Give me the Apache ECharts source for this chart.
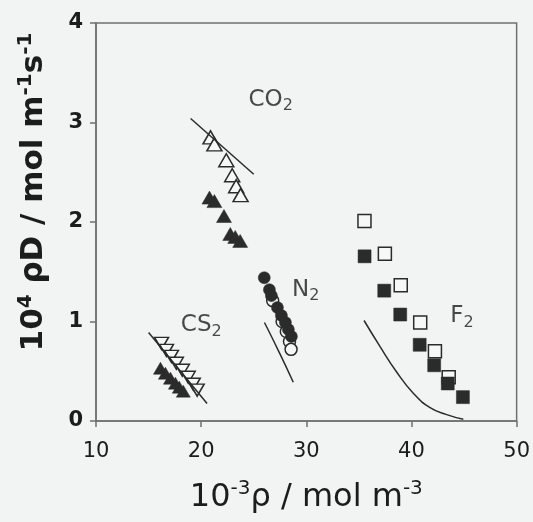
<!DOCTYPE html>
<html>
<head>
<meta charset="utf-8">
<script src="https://cdn.jsdelivr.net/npm/echarts@6/dist/echarts.min.js"></script>
<style>
  html, body { margin: 0; padding: 0; background: #f2f3f3; }
  #chart { width: 533px; height: 522px; }
</style>
</head>
<body>
<div id="chart"></div>
<script>
// Molar density (10^-3 rho) vs. rho*D for four fluids: measured points and model curves
var xTicks = [10, 20, 30, 40, 50];
var yTicks = [0, 1, 2, 3, 4];

var co2Open = [[20.89, 2.85], [21.26, 2.78], [22.39, 2.62], [22.95, 2.47], [23.33, 2.36], [23.75, 2.27]];
var co2Filled = [[20.79, 2.245], [21.26, 2.21], [22.17, 2.06], [22.77, 1.88], [23.24, 1.85], [23.71, 1.81]];
var co2Curve = [[19.0, 3.04], [25.0, 2.48]];

var n2Open = [[26.8, 1.21], [27.7, 1.0], [28.1, 0.9], [28.4, 0.8], [28.55, 0.72]];
var n2Filled = [[26.0, 1.44], [26.49, 1.32], [26.68, 1.26], [27.25, 1.14], [27.63, 1.06], [28.01, 0.99], [28.29, 0.92], [28.58, 0.85]];
var n2Curve = [[26.02, 0.99], [27.47, 0.68], [28.76, 0.39]];

var cs2Open = [[16.23, 0.78], [16.70, 0.71], [17.17, 0.65], [17.64, 0.58], [18.21, 0.51], [18.77, 0.44], [19.25, 0.37], [19.62, 0.31]];
var cs2Filled = [[16.13, 0.53], [16.60, 0.48], [17.08, 0.43], [17.55, 0.38], [17.92, 0.34], [18.30, 0.30]];
var cs2Curve = [[15.0, 0.89], [20.56, 0.175]];

var f2Open = [[35.53, 2.01], [37.47, 1.68], [38.98, 1.364], [40.83, 0.99], [42.23, 0.70], [43.54, 0.44]];
var f2Filled = [[35.54, 1.655], [37.41, 1.31], [38.93, 1.07], [40.78, 0.766], [42.16, 0.56], [43.45, 0.377], [44.89, 0.24]];
var f2Curve = [[35.49, 1.01], [36.94, 0.76], [38.57, 0.495], [40.17, 0.28], [41.77, 0.134], [43.35, 0.064], [44.93, 0.017]];

var speciesLabels = [
  { name: 'CO2', value: [24.5, 3.23], text: '{m|CO}{b|2}' },
  { name: 'N2', value: [28.65, 1.32], text: '{m|N}{b|2}' },
  { name: 'CS2', value: [18.07, 0.96], text: '{m|CS}{b|2}' },
  { name: 'F2', value: [43.69, 1.05], text: '{m|F}{b|2}' }
];

var FONT = '"DejaVu Sans", Arial, sans-serif';
var INK = '#2b2b2b';
var TEXT = '#1c1c1c';
var AXIS = '#707070';
var PAPER = '#f6f7f7';

function openSeries(data, symbol, size, rotate) {
  return {
    type: 'scatter', data: data, symbol: symbol, symbolSize: size, symbolRotate: rotate || 0,
    itemStyle: { color: PAPER, borderColor: INK, borderWidth: 1.5, opacity: 1 },
    z: 3, silent: true
  };
}
function filledSeries(data, symbol, size) {
  return {
    type: 'scatter', data: data, symbol: symbol, symbolSize: size,
    itemStyle: { color: INK, borderColor: INK, borderWidth: 0.5, opacity: 1 },
    z: 4, silent: true
  };
}
function curveSeries(data) {
  return {
    type: 'line', data: data, showSymbol: false, symbol: 'none', smooth: true,
    lineStyle: { color: INK, width: 1.5 }, z: 5, silent: true
  };
}

var chart = echarts.init(document.getElementById('chart'), null, { renderer: 'canvas' });
chart.setOption({
  backgroundColor: '#f2f3f3',
  animation: false,
  grid: {
    left: 96, right: 12, top: 23, bottom: 101,
    show: true, borderColor: AXIS, borderWidth: 1.5, backgroundColor: 'transparent'
  },
  xAxis: {
    type: 'value', min: xTicks[0], max: xTicks[xTicks.length - 1], interval: 10,
    axisLine: { show: true, lineStyle: { color: AXIS, width: 1.5 } },
    axisTick: { show: true, inside: false, length: 6, lineStyle: { color: AXIS, width: 1.5 } },
    splitLine: { show: false },
    axisLabel: { color: TEXT, fontSize: 21, fontFamily: FONT, margin: 20 },
    name: '{n|10}{s|-3}{n|ρ / mol m}{s|-3}',
    nameLocation: 'middle', nameGap: 58,
    nameTextStyle: {
      color: TEXT, fontFamily: FONT,
      rich: {
        n: { fontSize: 32, lineHeight: 38, fontFamily: FONT, color: TEXT, verticalAlign: 'middle' },
        s: { fontSize: 20, lineHeight: 20, fontFamily: FONT, color: TEXT, verticalAlign: 'top' }
      }
    }
  },
  yAxis: {
    type: 'value', min: yTicks[0], max: yTicks[yTicks.length - 1], interval: 1,
    axisLine: { show: true, lineStyle: { color: AXIS, width: 1.5 } },
    axisTick: { show: true, inside: false, length: 6, lineStyle: { color: AXIS, width: 1.5 } },
    splitLine: { show: false },
    axisLabel: { color: TEXT, fontSize: 21, fontFamily: FONT, fontWeight: 'bold', margin: 13 },
    name: '{n|10}{s|4}{n| ρD / mol m}{s|-1}{n|s}{s|-1}',
    nameLocation: 'middle', nameGap: 44, nameRotate: 90,
    nameTextStyle: {
      color: TEXT, fontFamily: FONT, padding: [0, 0, 0, 60],
      rich: {
        n: { fontSize: 31, lineHeight: 36, fontFamily: FONT, fontWeight: 'bold', color: TEXT, verticalAlign: 'middle' },
        s: { fontSize: 20, lineHeight: 20, fontFamily: FONT, fontWeight: 'bold', color: TEXT, verticalAlign: 'top' }
      }
    }
  },
  series: [
    curveSeries(co2Curve),
    openSeries(co2Open, 'triangle', [15, 13]),
    filledSeries(co2Filled, 'triangle', [15, 13]),

    curveSeries(n2Curve),
    openSeries(n2Open, 'circle', 12),
    filledSeries(n2Filled, 'circle', 12),

    curveSeries(cs2Curve),
    openSeries(cs2Open, 'triangle', [14, 12], 180),
    filledSeries(cs2Filled, 'triangle', [14, 12]),

    curveSeries(f2Curve),
    openSeries(f2Open, 'rect', 13),
    filledSeries(f2Filled, 'rect', 13),

    {
      type: 'scatter', symbolSize: 0, silent: true, z: 6,
      data: speciesLabels.map(function (d) { return { name: d.name, value: d.value }; }),
      label: {
        show: true, position: 'right', distance: 0,
        formatter: function (p) { return speciesLabels[p.dataIndex].text; },
        rich: {
          m: { fontSize: 23, lineHeight: 28, fontFamily: FONT, color: TEXT, verticalAlign: 'middle' },
          b: { fontSize: 16, lineHeight: 16, fontFamily: FONT, color: TEXT, verticalAlign: 'bottom' }
        }
      }
    }
  ]
});
</script>
</body>
</html>
